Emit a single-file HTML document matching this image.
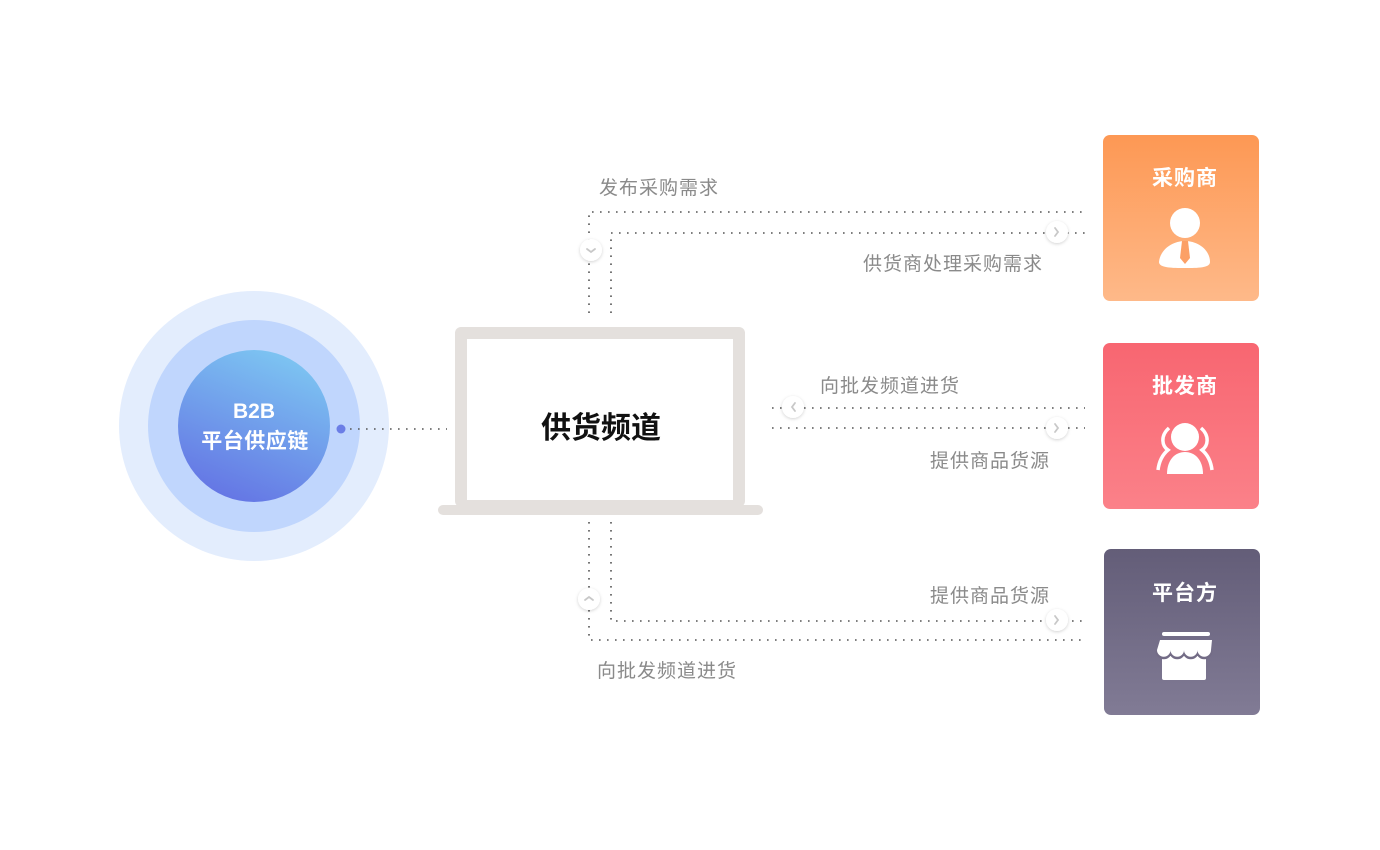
<!DOCTYPE html>
<html><head><meta charset="utf-8"><style>
html,body{margin:0;padding:0;background:#fff;}
svg{display:block;font-family:"Liberation Sans","Noto Sans CJK SC",sans-serif;}
</style></head><body>
<svg width="1380" height="850" viewBox="0 0 1380 850" xmlns="http://www.w3.org/2000/svg">
<defs>
<linearGradient id="gi" x1="0.7" y1="0" x2="0.3" y2="1"><stop offset="0" stop-color="#7dc6f2"/><stop offset="1" stop-color="#6474e4"/></linearGradient>
<linearGradient id="g1" x1="0" y1="0" x2="0" y2="1"><stop offset="0" stop-color="#fd9854"/><stop offset="1" stop-color="#feb989"/></linearGradient>
<linearGradient id="g2" x1="0" y1="0" x2="0" y2="1"><stop offset="0" stop-color="#f86671"/><stop offset="1" stop-color="#fb8189"/></linearGradient>
<linearGradient id="g3" x1="0" y1="0" x2="0" y2="1"><stop offset="0" stop-color="#635d78"/><stop offset="1" stop-color="#817b95"/></linearGradient>
<filter id="sh" x="-50%" y="-50%" width="200%" height="200%"><feDropShadow dx="0" dy="1" stdDeviation="1.5" flood-color="#000" flood-opacity="0.18"/></filter>
</defs>
<circle cx="254" cy="426" r="135" fill="#e3edfd"/>
<circle cx="254" cy="426" r="106" fill="#c0d6fd"/>
<circle cx="254" cy="426" r="76" fill="url(#gi)"/>
<text x="254" y="418" text-anchor="middle" fill="#fff" font-size="21" font-weight="bold">B2B</text>
<text x="255" y="448" text-anchor="middle" fill="#fff" font-size="21" font-weight="bold" letter-spacing="0.5">平台供应链</text>
<circle cx="341" cy="429" r="4.5" fill="#6b7ee6"/>
<g stroke="#555" stroke-width="1.6" stroke-dasharray="1.6 6.4" fill="none">
<line x1="350" y1="429" x2="447" y2="429"/>
<polyline points="589,313 589,212 1085,212"/>
<polyline points="611,313 611,233 1085,233"/>
<line x1="772" y1="408" x2="1085" y2="408"/>
<line x1="772" y1="428" x2="1085" y2="428"/>
<polyline points="589,522 589,640 1085,640"/>
<polyline points="611,522 611,621 1085,621"/>
</g>
<rect x="455" y="327" width="290" height="180" rx="6" fill="#e4e0dd"/>
<rect x="467" y="339" width="266" height="161" fill="#fff"/>
<rect x="438" y="505" width="325" height="10" rx="5" fill="#e4e0dd"/>
<text x="601" y="438" text-anchor="middle" font-size="30" font-weight="bold" fill="#111">供货频道</text>
<g fill="#fff" filter="url(#sh)">
<circle cx="591" cy="250" r="11"/><circle cx="1057" cy="232" r="11"/>
<circle cx="793" cy="407" r="11"/><circle cx="1057" cy="428" r="11"/>
<circle cx="589" cy="599" r="11"/><circle cx="1057" cy="620" r="11"/>
</g>
<g stroke="#c8c8c8" stroke-width="1.8" fill="none" stroke-linecap="round">
<polyline points="587,249 591,252 595,249"/>
<polyline points="1055,228 1058,232 1055,236"/>
<polyline points="795,403 792,407 795,411"/>
<polyline points="1055,424 1058,428 1055,432"/>
<polyline points="585,600 589,597 593,600"/>
<polyline points="1055,616 1058,620 1055,624"/>
</g>
<g font-size="19" fill="#8a8a8a" letter-spacing="1">
<text x="599" y="194">发布采购需求</text>
<text x="863" y="270">供货商处理采购需求</text>
<text x="820" y="392">向批发频道进货</text>
<text x="930" y="467">提供商品货源</text>
<text x="930" y="602">提供商品货源</text>
<text x="597" y="677">向批发频道进货</text>
</g>
<rect x="1103" y="135" width="156" height="166" rx="7" fill="url(#g1)"/>
<rect x="1103" y="343" width="156" height="166" rx="7" fill="url(#g2)"/>
<rect x="1104" y="549" width="156" height="166" rx="7" fill="url(#g3)"/>
<g font-size="21" fill="#fff" text-anchor="middle" font-weight="bold" letter-spacing="1">
<text x="1185" y="185">采购商</text>
<text x="1185" y="393">批发商</text>
<text x="1185" y="600">平台方</text>
</g>
<circle cx="1185" cy="223" r="15" fill="#fff"/>
<path d="M1159,262 C1160,250 1172,241 1185,241 C1198,241 1210,250 1210,262 C1210,268 1198,268 1185,268 C1172,268 1159,268 1159,262 Z" fill="#fff"/>
<path d="M1182,241 L1188,241 L1190,258 L1185,264 L1180,258 Z" fill="#fca066"/>
<circle cx="1185" cy="437" r="14" fill="#fff"/>
<path d="M1167,474 C1167,460 1175,452 1185,452 C1195,452 1203,460 1203,474 Z" fill="#fff"/>
<path d="M1169,428 C1160,436 1162,446 1168,450 C1162,455 1159,462 1158,470" stroke="#fff" stroke-width="3.5" fill="none"/>
<path d="M1201,428 C1210,436 1208,446 1202,450 C1208,455 1211,462 1212,470" stroke="#fff" stroke-width="3.5" fill="none"/>
<!-- store -->
<rect x="1162" y="632" width="48" height="4" rx="2" fill="#fff"/>
<rect x="1162" y="652" width="44" height="28" rx="2" fill="#fff"/>
<path d="M1157,651 A6.75,6.75 0 0 0 1170.5,651 A6.75,6.75 0 0 0 1184,651 A6.75,6.75 0 0 0 1197.5,651 A6.75,6.75 0 0 0 1211,651" stroke="#736c86" stroke-width="3" fill="none"/>
<path d="M1160,640 L1212,640 L1211,650 A6.75,6.75 0 0 1 1197.5,650 A6.75,6.75 0 0 1 1184,650 A6.75,6.75 0 0 1 1170.5,650 A6.75,6.75 0 0 1 1157,650 Z" fill="#fff"/>
</svg>
</body></html>
